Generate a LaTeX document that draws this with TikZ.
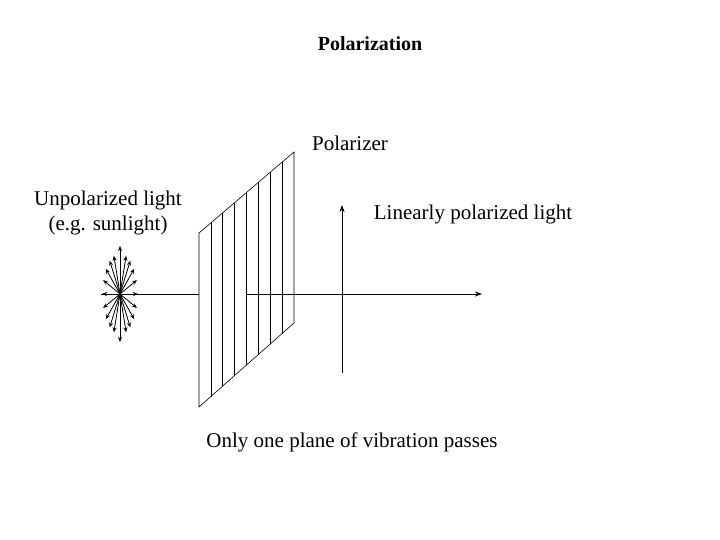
\documentclass[tikz,border=0pt]{standalone}
\usepackage{fontspec}
\setmainfont{Liberation Serif}
\usetikzlibrary{arrows.meta}
\begin{document}
\begin{tikzpicture}[x=1pt,y=-1pt,
  lbl/.style={font=\fontsize{21}{25}\selectfont,align=center,inner sep=0pt},
  arr/.style={-{Stealth[length=7pt,width=5pt]},line width=1pt}]
\useasboundingbox (0,0) rectangle (720,540);
\node[lbl,font=\bfseries\fontsize{20}{24}\selectfont] (title) at (370,44) {Polarization};
\node[lbl] (pz) at (350,143) {Polarizer};
\node[lbl] (un) at (108,213) {Unpolarized light\\(e.g. sunlight)};
\node[lbl] (lp) at (473,214) {Linearly polarized light};
\node[lbl] (only) at (352,442) {Only one plane of vibration passes};
\coordinate (c) at (120,294);
\coordinate (p1) at (199,294);
\coordinate (p2) at (246,294);
\coordinate (e) at (482,294);
\coordinate (vt) at (342,205);
\coordinate (vb) at (342,373);
\draw[line width=0.6pt] (101,294) -- (p1);
\draw[arr] (p2) -- (e);
\draw[-{Stealth[length=7pt,width=5pt]},{Stealth[length=7pt,width=5pt]}-,line width=1pt] (vt) -- (vb);
% polarizer
\draw[line width=0.6pt] (199,233) -- (294,152) -- (294,323) -- (199,407) -- cycle;
\foreach \i in {1,...,7}{
  \draw[line width=0.6pt] ({199+\i*95/8},{233-\i*81/8}) -- ({199+\i*95/8},{407-\i*84/8});
}
% starburst
\foreach \a in {0,20,38,55,70,90,110,125,142,160,180,200,218,235,250,270,290,305,322,340}{
  \draw[arr,line width=0.8pt,-{Stealth[length=5pt,width=4pt]}] (c) -- ++({18*cos(\a)},{48*sin(\a)*(abs(sin(\a))>0.99?1:0.85)});
}
\end{tikzpicture}
\end{document}
